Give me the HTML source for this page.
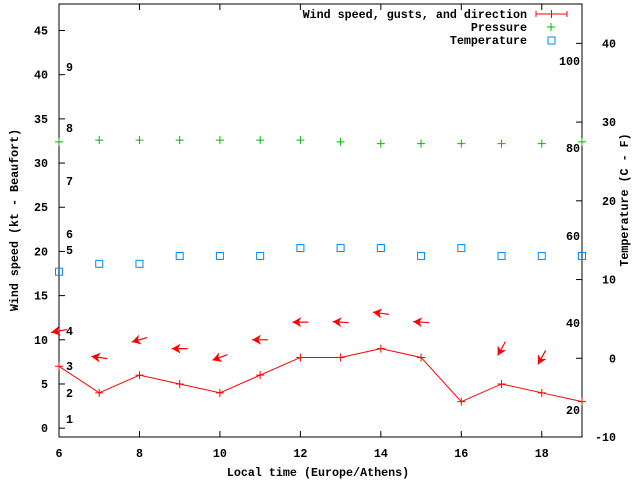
<!DOCTYPE html>
<html><head><meta charset="utf-8"><style>
body{margin:0;background:#fff}
svg{display:block;font-family:"Liberation Mono",monospace;font-weight:bold;font-size:11.7px}
</style></head><body>
<svg id="chart" width="640" height="480" xmlns="http://www.w3.org/2000/svg"></svg>
<script>
const hours=[6,7,8,9,10,11,12,13,14,15,16,17,18,19];
const windSpeed=[7,4,6,5,4,6,8,8,9,8,3,5,4,3];
const windGust=[11,8,10,9,8,10,12,12,13,12,null,9,8,null];
const windDirDeg=[190,172,196,180,200,180,180,176,172,176,null,241,241,null];
const pressure=[32.4,32.6,32.6,32.6,32.6,32.6,32.6,32.4,32.2,32.2,32.2,32.2,32.2,32.4];
const temperature=[11,12,12,13,13,13,14,14,14,13,14,13,13,13];
const leftTicks=[0,5,10,15,20,25,30,35,40,45];
const rightTicks=[-10,0,10,20,30,40];
const xTicks=[6,8,10,12,14,16,18];
const beaufort=[["1",419],["2",393],["3",366],["4",331],["5",250],["6",234],["7",181],["8",128],["9",67]];
const fahr=[["20",410],["40",323],["60",236],["80",148],["100",61]];

const L=59,R=582,T=4,B=437;
const X=h=>L+(h-6)*(R-L)/13;
const Y=v=>B-(v+1)*(B-T)/49;
const Y2=v=>B-(v+10)*(B-T)/55;
const svg=document.getElementById('chart');
const NS='http://www.w3.org/2000/svg';
function mk(tag,attrs,name,parent){const e=document.createElementNS(NS,tag);for(const k in attrs)e.setAttribute(k,attrs[k]);


(parent||svg).appendChild(e);return e;}
function txt(x,y,s,anchor,name,extra){const t=mk('text',Object.assign({x:x,y:y,'text-anchor':anchor||'start'},extra||{}),name);t.textContent=s;return t;}

mk('rect',{x:L,y:T,width:R-L,height:B-T,fill:'none',stroke:'#000','stroke-width':1},'plot-frame');
leftTicks.forEach(v=>{const y=Y(v);mk('line',{x1:L,y1:y,x2:L+6,y2:y,stroke:'#000'},'left-tick');txt(L-11,y+4,String(v),'end','left-tick-label');});
rightTicks.forEach(v=>{const y=Y2(v);mk('line',{x1:R,y1:y,x2:R-6,y2:y,stroke:'#000'},'right-tick');txt(R+34,y+4,String(v),'end','right-tick-label');});
xTicks.forEach(h=>{const x=X(h);mk('line',{x1:x,y1:B,x2:x,y2:B-6,stroke:'#000'},'x-tick');mk('line',{x1:x,y1:T,x2:x,y2:T+6,stroke:'#000'},'x-tick-top');txt(x,B+20,String(h),'middle','x-tick-label');});
beaufort.forEach(b=>txt(66,b[1]+4,b[0],'start','beaufort-label'));
fahr.forEach(f=>txt(580,f[1]+4,f[0],'end','fahrenheit-label'));

txt(318,476,'Local time (Europe/Athens)','middle','x-axis-title');
txt(0,0,'Wind speed (kt - Beaufort)','middle','y-axis-title',{transform:'translate(18,220) rotate(-90)'});
txt(0,0,'Temperature (C - F)','middle','y2-axis-title',{transform:'translate(628,200) rotate(-90)'});

let d='';hours.forEach((h,i)=>{d+=(i?'L':'M')+X(h)+','+Y(windSpeed[i]);});
mk('path',{d:d,fill:'none',stroke:'#f00','stroke-width':1},'wind-speed-line');
hours.forEach((h,i)=>{const x=X(h),y=Y(windSpeed[i]);mk('path',{d:`M${x-4},${y}H${x+4}M${x},${y-4}V${y+4}`,stroke:'#f00'},'wind-point');});
hours.forEach((h,i)=>{if(windGust[i]==null)return;const cx=X(h),cy=Y(windGust[i]);const a=windDirDeg[i]*Math.PI/180;const dx=Math.cos(a),dy=-Math.sin(a);const len=16;
const hx=cx+dx*len/2,hy=cy+dy*len/2,tx=cx-dx*len/2,ty=cy-dy*len/2;
mk('line',{x1:tx,y1:ty,x2:hx,y2:hy,stroke:'#f00','stroke-width':1.2},'wind-arrow-shaft');
const px=-dy,py=dx,bl=9,bw=5;
mk('polygon',{points:`${hx},${hy} ${hx-dx*bl+px*bw},${hy-dy*bl+py*bw} ${hx-dx*bl*0.7},${hy-dy*bl*0.7} ${hx-dx*bl-px*bw},${hy-dy*bl-py*bw}`,fill:'#f00'},'wind-arrow-head');});
hours.forEach((h,i)=>{const x=X(h),y=Y(pressure[i]);mk('path',{d:`M${x-4},${y}H${x+4}M${x},${y-4}V${y+4}`,stroke:'#0b0'},'pressure-point');});
hours.forEach((h,i)=>{const x=X(h),y=Y2(temperature[i]);mk('rect',{x:x-3.5,y:y-3.5,width:7,height:7,fill:'none',stroke:'#08f'},'temperature-point');});
txt(527,18,'Wind speed, gusts, and direction','end','legend-wind-label');
mk('path',{d:'M536,14H567M536,11V17M567,11V17M551.5,10V18',stroke:'#f00',fill:'none'},'legend-wind-sample');
txt(527,31,'Pressure','end','legend-pressure-label');
mk('path',{d:'M547,27H555M551,23V31',stroke:'#0b0'},'legend-pressure-sample');
txt(527,44,'Temperature','end','legend-temperature-label');
mk('rect',{x:548,y:37,width:7,height:7,fill:'none',stroke:'#08f'},'legend-temperature-sample');
</script>
</body></html>
